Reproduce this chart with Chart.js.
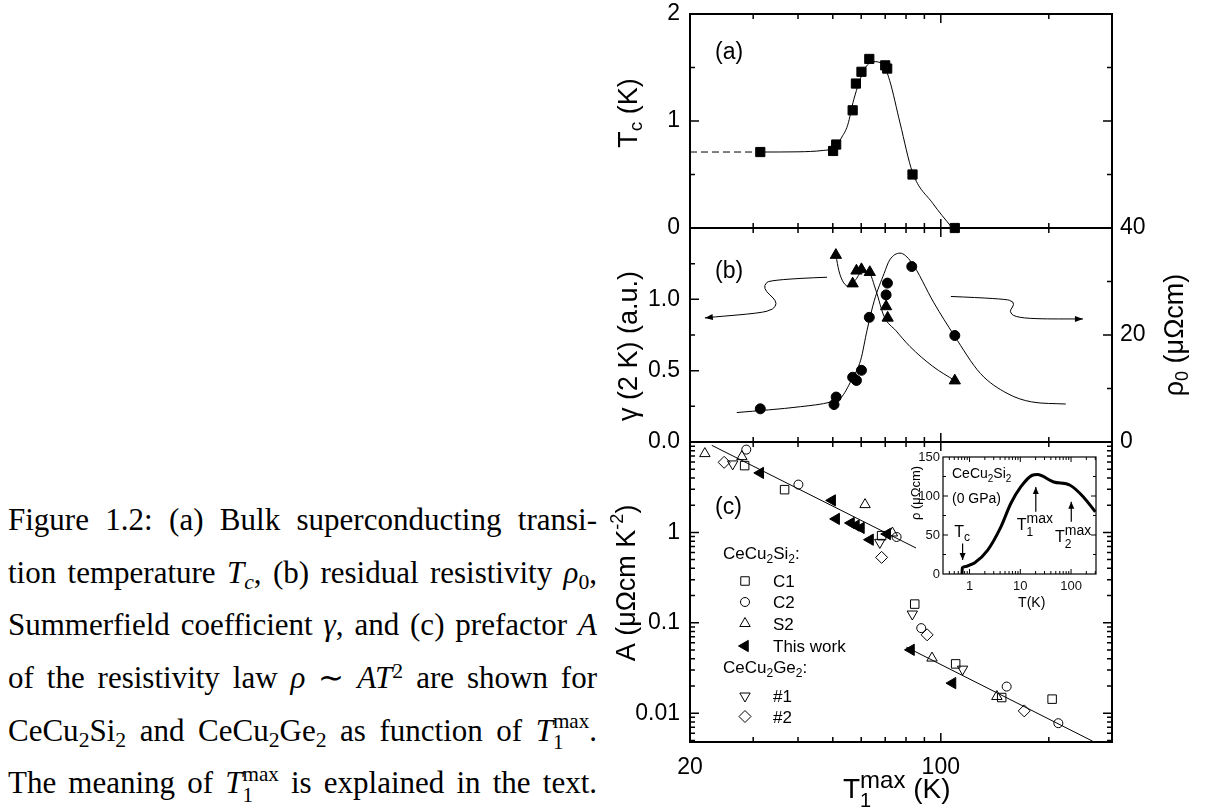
<!DOCTYPE html>
<html>
<head>
<meta charset="utf-8">
<title>Tc, gamma, rho0 and A versus T1max</title>
<script src="https://cdn.jsdelivr.net/npm/chart.js"></script>
<style>
  html, body { margin: 0; padding: 0; background: #fff; }
  #page { position: relative; width: 1210px; height: 812px; overflow: hidden; background: #fff; }
  canvas { position: absolute; }
  .cap { position: absolute; left: 8px; width: 589px; font-family: "Liberation Serif", "Times New Roman", serif;
         font-size: 31px; line-height: 40px; text-align: justify; text-align-last: justify; color: #000; }
  .cap sub, .cap sup { font-size: 0.7em; line-height: 0; position: relative; vertical-align: baseline; }
  .cap sub { top: 0.28em; }
  .cap sup { top: -0.45em; }
  .ss { display: inline-flex; flex-direction: column; font-size: 0.68em; line-height: 1; vertical-align: 0.6em; }
</style>
</head>
<body>
<div id="page">
  <div class="cap" style="top:500px">Figure 1.2: (a) Bulk superconducting transi-</div>
  <div class="cap" style="top:552.6px">tion temperature <i>T<sub>c</sub></i>, (b) residual resistivity <i>ρ</i><sub>0</sub>,</div>
  <div class="cap" style="top:605.2px">Summerfield coefficient <i>γ</i>, and (c) prefactor <i>A</i></div>
  <div class="cap" style="top:658px">of the resistivity law <i>ρ</i> ∼ <i>AT</i><sup>2</sup> are shown for</div>
  <div class="cap" style="top:710.6px">CeCu<sub>2</sub>Si<sub>2</sub> and CeCu<sub>2</sub>Ge<sub>2</sub> as function of <i>T</i><span class="ss"><span>max</span><span>1</span></span>.</div>
  <div class="cap" style="top:763.2px">The meaning of <i>T</i><span class="ss"><span>max</span><span>1</span></span> is explained in the text.</div>

  <canvas id="panelC" width="650" height="400" style="left:560px;top:412px;z-index:1"></canvas>
  <canvas id="panelB" width="650" height="274" style="left:560px;top:198px;z-index:2"></canvas>
  <canvas id="panelA" width="650" height="274" style="left:560px;top:-16px;z-index:3"></canvas>
  <canvas id="inset" width="215" height="170" style="left:895px;top:445px;z-index:4"></canvas>
</div>

<script>
const FONT = '"Liberation Sans", Arial, Helvetica, sans-serif';
Chart.defaults.font.family = FONT;
Chart.defaults.color = '#000';

// shared x axis: T1max (K)
const xLabels = [20, 100];

// (a) bulk Tc
const tcT   = [31.4, 50.1, 51.1, 56.8, 58.0, 60.1, 63.2, 70.0, 70.9, 83.4, 109.4];
const tcVal = [0.71, 0.72, 0.78, 1.10, 1.35, 1.46, 1.58, 1.52, 1.49, 0.50, 0.00];
const tcFitT   = [31.4, 40.0, 47.0, 50.5, 53.0, 55.0, 57.2, 61.2, 64.9, 69.0, 72.0, 77.0, 83.4, 95.0, 107.0];
const tcFitVal = [0.71, 0.712, 0.725, 0.75, 0.85, 0.96, 1.20, 1.48, 1.555, 1.53, 1.38, 0.98, 0.52, 0.23, 0.01];
const tcDashT   = [20, 31.4];
const tcDashVal = [0.71, 0.71];
const tcLabels = [0, 1, 2];

// (b) gamma(2 K) on the left axis, rho0 on the right axis
const gamT   = [51.0, 56.8, 58.2, 60.1, 63.4, 70.4, 71.1, 109.4];
const gamVal = [1.31, 1.11, 1.20, 1.21, 1.19, 0.95, 0.87, 0.43];
const gamFitT   = [51.0, 52.0, 53.5, 55.5, 58.0, 60.5, 63.0, 66.0, 69.5, 75.0, 82.0, 95.0, 109.4];
const gamFitVal = [1.31, 1.20, 1.12, 1.09, 1.14, 1.20, 1.19, 1.06, 0.88, 0.78, 0.67, 0.53, 0.43];
const rhoT   = [31.4, 50.4, 51.1, 56.8, 58.2, 60.1, 63.2, 70.4, 71.0, 83.0, 109.4];
const rhoVal = [6.2, 7.0, 8.4, 12.1, 11.5, 13.4, 23.3, 27.5, 29.7, 32.8, 19.9];
const rhoFitT   = [27.0, 40.6, 49.5, 52.6, 56.4, 59.8, 62.3, 65.3, 69.5, 72.0, 77.0, 82.6, 95.7, 109.0, 129.0, 153.0, 179.0, 223.0];
const rhoFitVal = [5.5, 6.6, 7.5, 8.2, 11.6, 15.3, 20.9, 26.5, 31.5, 34.0, 35.3, 33.7, 26.0, 19.9, 12.8, 9.1, 7.5, 7.1];
const gamLabels = [0, 0.5, 1.0];
const rhoLabels = [0, 20, 40];
// guide arrows (T1max, rho0)
const guideLeftT  = [48.2, 33.5, 32.1, 32.6, 34.2, 34.9, 34.2, 31.4, 22.7, 22.0];
const guideLeftR  = [30.8, 30.4, 29.3, 28.1, 26.9, 25.9, 24.8, 24.1, 23.3, 23.2];
const guideRightT = [106.7, 150.3, 160.3, 158.6, 155.2, 160.3, 182.3, 249];
const guideRightR = [27.2, 26.8, 26.2, 25.2, 24.4, 23.4, 23.0, 23.0];

// (c) A coefficient
const c1T = [28.4, 36.7, 68.4, 84.6, 110.0, 147.8, 204.3];
const c1A = [5.48, 2.97, 0.92, 0.161, 0.0351, 0.0149, 0.0143];
const c2T = [28.7, 40.1, 75.3, 88.2, 152.6, 212.6];
const c2A = [8.24, 3.38, 0.89, 0.0873, 0.0197, 0.00775];
const s2T = [22.0, 27.9, 61.5, 73.3, 94.5, 143.3];
const s2A = [7.44, 6.89, 2.03, 0.985, 0.0407, 0.0153];
const thisT = [31.4, 49.8, 51.1, 56.2, 58.0, 59.9, 63.5, 70.9, 82.6, 107.8];
const thisA = [4.55, 2.26, 1.41, 1.27, 1.19, 1.12, 0.83, 0.96, 0.0502, 0.0215];
const ge1T = [26.3, 67.6, 83.3, 115.0];
const ge1A = [5.72, 0.775, 0.125, 0.0307];
const ge2T = [24.9, 68.4, 91.6, 170.8];
const ge2A = [5.96, 0.529, 0.0736, 0.0106];
const fitLoT = [23.0, 85.3];
const fitLoA = [9.19, 0.672];
const fitHiT = [80.2, 265];
const fitHiA = [0.0538, 0.0049];
const aLabels = [0.01, 0.1, 1];

// inset: rho(T) of CeCu2Si2 at 0 GPa
const insT   = [0.71, 0.72, 0.85, 1.0, 1.25, 2.28, 4.15, 6.5, 10.2, 17.2, 21.6, 45.4, 95.8, 175, 300];
const insRho = [0, 8, 9.5, 11.5, 14, 30.7, 60.5, 90.4, 111.6, 126.6, 127.5, 118, 113.8, 98.8, 79.7];
const insXLabels = [1, 10, 100];
const insYLabels = [0, 50, 100, 150];
const insArrowT    = [0.73, 20.2, 101];
const insArrowFrom = [39, 79.7, 66.9];
const insArrowTo   = [18, 111.6, 92.5];

function xy(xs, ys) { return xs.map((x, i) => ({ x: x, y: ys[i] })); }

function logTicks(lo, hi, major, minor) {
  const out = [];
  for (let d = Math.pow(10, Math.floor(Math.log10(lo))); d < hi; d *= 10) {
    for (let k = 1; k <= 9; k++) {
      const v = +(d * k).toPrecision(6);
      if (v > lo * 1.001 && v < hi * 0.999) out.push([v, k === 1 ? major : minor]);
    }
  }
  return out;
}
function linTicks(lo, hi, step, majorStep, major, minor) {
  const out = [];
  for (let v = lo + step; v < hi - step / 2; v += step) {
    const r = +v.toFixed(6);
    out.push([r, Math.abs(r / majorStep - Math.round(r / majorStep)) < 1e-6 ? major : minor]);
  }
  return out;
}

function rich(ctx, parts, x, y, rot, align) {
  ctx.save();
  ctx.translate(x, y);
  ctx.rotate(rot || 0);
  ctx.fillStyle = '#000';
  ctx.textAlign = 'left';
  ctx.textBaseline = 'alphabetic';
  const w = parts.map(p => { ctx.font = p[1] + 'px ' + FONT; return ctx.measureText(p[0]).width; });
  let total = 0;
  parts.forEach((p, i) => { if (!p[3]) total += w[i]; });
  let cx = align === 'center' ? -total / 2 : 0;
  parts.forEach((p, i) => {
    ctx.font = p[1] + 'px ' + FONT;
    ctx.fillText(p[0], cx, p[2] || 0);
    if (!p[3]) cx += w[i];
  });
  ctx.restore();
}

function arrowHead(ctx, x, y, ang, len, half) {
  ctx.beginPath();
  ctx.moveTo(x, y);
  ctx.lineTo(x - len * Math.cos(ang) + half * Math.sin(ang), y - len * Math.sin(ang) - half * Math.cos(ang));
  ctx.lineTo(x - len * Math.cos(ang) - half * Math.sin(ang), y - len * Math.sin(ang) + half * Math.cos(ang));
  ctx.closePath();
  ctx.fill();
}

function smoothPath(ctx, pts) {
  ctx.beginPath();
  ctx.moveTo(pts[0].x, pts[0].y);
  for (let i = 1; i < pts.length - 1; i++) {
    const mx = (pts[i].x + pts[i + 1].x) / 2, my = (pts[i].y + pts[i + 1].y) / 2;
    ctx.quadraticCurveTo(pts[i].x, pts[i].y, mx, my);
  }
  const n = pts.length - 1;
  ctx.lineTo(pts[n].x, pts[n].y);
  ctx.stroke();
}

// box + inward ticks
function makeFrame(o) {
  return {
    id: 'frame',
    beforeDatasetsDraw(chart) {
      const ctx = chart.ctx, a = chart.chartArea, s = chart.scales;
      ctx.save();
      if (o.fill) { ctx.fillStyle = '#fff'; ctx.fillRect(a.left, a.top, a.width, a.height); }
      ctx.strokeStyle = '#000';
      ctx.lineWidth = o.tickWidth;
      ctx.beginPath();
      o.xTicks.forEach(([v, len]) => {
        const p = s.x.getPixelForValue(v);
        ctx.moveTo(p, a.top); ctx.lineTo(p, a.top + len);
        ctx.moveTo(p, a.bottom); ctx.lineTo(p, a.bottom - len);
      });
      o.leftTicks.forEach(([v, len]) => {
        const p = s[o.leftId].getPixelForValue(v);
        ctx.moveTo(a.left, p); ctx.lineTo(a.left + len, p);
      });
      o.rightTicks.forEach(([v, len]) => {
        const p = s[o.rightId].getPixelForValue(v);
        ctx.moveTo(a.right, p); ctx.lineTo(a.right - len, p);
      });
      ctx.stroke();
      ctx.lineWidth = o.boxWidth;
      ctx.strokeRect(a.left, a.top, a.width, a.height);
      ctx.restore();
    }
  };
}

function xScale(display) {
  return {
    type: 'logarithmic', min: 20, max: 300, display: display,
    grid: { display: false, drawTicks: false }, border: { display: false },
    afterBuildTicks: s => { s.ticks = xLabels.map(v => ({ value: v })); },
    ticks: { font: { size: 23 }, color: '#000', padding: 12, autoSkip: false, maxRotation: 0, callback: v => String(v) },
    afterFit: s => { s.height = display ? 70 : 0; }
  };
}
function yScale(type, min, max, labels, fmt, pos, width, pad) {
  return {
    type: type, min: min, max: max, position: pos,
    grid: { display: false, drawTicks: false }, border: { display: false },
    afterBuildTicks: s => { s.ticks = labels.map(v => ({ value: v })); },
    ticks: { font: { size: 23 }, color: '#000', padding: pad, autoSkip: false, callback: fmt },
    afterFit: s => { s.width = width; }
  };
}
function lineSet(xs, ys, axis, extra) {
  return Object.assign({
    data: xy(xs, ys), yAxisID: axis, showLine: true, pointRadius: 0, borderColor: '#000',
    borderWidth: 1, fill: false, cubicInterpolationMode: 'monotone'
  }, extra || {});
}
function markSet(xs, ys, axis, style, r, rot, filled) {
  return {
    data: xy(xs, ys), yAxisID: axis, showLine: false, pointStyle: style, pointRadius: r,
    pointRotation: rot, pointBorderWidth: 1, borderColor: '#000', pointBorderColor: '#000',
    backgroundColor: filled ? '#000' : 'rgba(0,0,0,0)', pointBackgroundColor: filled ? '#000' : 'rgba(0,0,0,0)',
    clip: false
  };
}
const baseOpts = {
  responsive: false, animation: false, devicePixelRatio: 1, events: [],
  plugins: { legend: { display: false }, tooltip: { enabled: false } }
};

const xTickMarks = logTicks(20, 300, 9, 5);

// ---------- panel (a) ----------
new Chart(document.getElementById('panelA'), {
  type: 'scatter',
  data: { datasets: [
    markSet(tcT, tcVal, 'y', 'rect', 6.5, 0, true),
    lineSet(tcFitT, tcFitVal, 'y'),
    lineSet(tcDashT, tcDashVal, 'y', { borderDash: [7, 4], cubicInterpolationMode: 'default' })
  ] },
  options: Object.assign({}, baseOpts, {
    layout: { autoPadding: false, padding: { top: 30, bottom: 30, left: 0, right: 98 } },
    scales: {
      x: xScale(false),
      y: yScale('linear', 0, 2, tcLabels, v => String(v), 'left', 130, 10)
    }
  }),
  plugins: [
    makeFrame({ xTicks: xTickMarks, leftId: 'y', rightId: 'y',
      leftTicks: linTicks(0, 2, 0.5, 1, 9, 5), rightTicks: linTicks(0, 2, 0.5, 1, 9, 5),
      tickWidth: 1.5, boxWidth: 2 }),
    { id: 'textA', afterDraw(chart) {
      const a = chart.chartArea, ctx = chart.ctx;
      rich(ctx, [['(a)', 23, 0]], a.left + 25, a.top + 45);
      rich(ctx, [['T', 27, 9.5], ['c', 19, 15], [' (K)', 27, 9.5]], 67, a.top + 99, -Math.PI / 2, 'center');
    } }
  ]
});

// ---------- panel (b) ----------
new Chart(document.getElementById('panelB'), {
  type: 'scatter',
  data: { datasets: [
    markSet(gamT, gamVal, 'y', 'triangle', 6.5, 0, true),
    markSet(rhoT, rhoVal, 'y2', 'circle', 5, 0, true),
    lineSet(gamFitT, gamFitVal, 'y'),
    lineSet(rhoFitT, rhoFitVal, 'y2')
  ] },
  options: Object.assign({}, baseOpts, {
    layout: { autoPadding: false, padding: { top: 30, bottom: 30, left: 0, right: 0 } },
    scales: {
      x: xScale(false),
      y: yScale('linear', 0, 1.5, gamLabels, v => v.toFixed(1), 'left', 130, 10),
      y2: yScale('linear', 0, 40, rhoLabels, v => String(v), 'right', 98, 8)
    }
  }),
  plugins: [
    makeFrame({ xTicks: xTickMarks, leftId: 'y', rightId: 'y2',
      leftTicks: linTicks(0, 1.5, 0.25, 0.5, 9, 5), rightTicks: linTicks(0, 40, 10, 20, 9, 5),
      tickWidth: 1.5, boxWidth: 2 }),
    { id: 'textB', afterDraw(chart) {
      const a = chart.chartArea, ctx = chart.ctx, sx = chart.scales.x, sy = chart.scales.y2;
      rich(ctx, [['(b)', 23, 0]], a.left + 25, a.top + 49.7);
      rich(ctx, [['γ (2 K) (a.u.)', 27, 9.5]], 67, a.top + 118, -Math.PI / 2, 'center');
      rich(ctx, [['ρ', 27, 9.5], ['0', 18, 15], [' (μΩcm)', 27, 9.5]], 613, a.top + 107, -Math.PI / 2, 'center');
      ctx.save();
      ctx.strokeStyle = '#000'; ctx.fillStyle = '#000'; ctx.lineWidth = 1;
      const L = guideLeftT.map((t, i) => ({ x: sx.getPixelForValue(t), y: sy.getPixelForValue(guideLeftR[i]) }));
      const R = guideRightT.map((t, i) => ({ x: sx.getPixelForValue(t), y: sy.getPixelForValue(guideRightR[i]) }));
      smoothPath(ctx, L);
      smoothPath(ctx, R);
      const l1 = L[L.length - 1], l0 = L[L.length - 2];
      arrowHead(ctx, l1.x, l1.y, Math.atan2(l1.y - l0.y, l1.x - l0.x), 8, 3);
      const r1 = R[R.length - 1], r0 = R[R.length - 2];
      arrowHead(ctx, r1.x, r1.y, Math.atan2(r1.y - r0.y, r1.x - r0.x), 8, 3);
      ctx.restore();
    } }
  ]
});

// ---------- panel (c) ----------
const cSeries = [
  { name: 'C1', xs: c1T, ys: c1A, style: 'rect', r: 6, rot: 0, filled: false },
  { name: 'C2', xs: c2T, ys: c2A, style: 'circle', r: 4.5, rot: 0, filled: false },
  { name: 'S2', xs: s2T, ys: s2A, style: 'triangle', r: 6, rot: 0, filled: false },
  { name: 'This work', xs: thisT, ys: thisA, style: 'triangle', r: 6.5, rot: -90, filled: true },
  { name: '#1', xs: ge1T, ys: ge1A, style: 'triangle', r: 6, rot: 180, filled: false },
  { name: '#2', xs: ge2T, ys: ge2A, style: 'rectRot', r: 6, rot: 0, filled: false }
];
const legendRows = [
  { dy: 111, head: 'Si' }, { dy: 139, s: 0 }, { dy: 160, s: 1 }, { dy: 181.5, s: 2 }, { dy: 204, s: 3 },
  { dy: 225, head: 'Ge' }, { dy: 254, s: 4 }, { dy: 274.5, s: 5 }
];

new Chart(document.getElementById('panelC'), {
  type: 'scatter',
  data: { datasets: cSeries.map(s => markSet(s.xs, s.ys, 'y', s.style, s.r, s.rot, s.filled)).concat([
    lineSet(fitLoT, fitLoA, 'y', { cubicInterpolationMode: 'default' }),
    lineSet(fitHiT, fitHiA, 'y', { cubicInterpolationMode: 'default' })
  ]) },
  options: Object.assign({}, baseOpts, {
    layout: { autoPadding: false, padding: { top: 30, bottom: 0, left: 0, right: 98 } },
    scales: {
      x: xScale(true),
      y: yScale('logarithmic', 0.0048, 10, aLabels, v => String(v), 'left', 130, 10)
    }
  }),
  plugins: [
    makeFrame({ xTicks: xTickMarks, leftId: 'y', rightId: 'y',
      leftTicks: logTicks(0.0048, 10, 9, 5), rightTicks: logTicks(0.0048, 10, 9, 5),
      tickWidth: 1.5, boxWidth: 2 }),
    { id: 'textC', afterDraw(chart) {
      const a = chart.chartArea, ctx = chart.ctx;
      rich(ctx, [['(c)', 23, 0]], a.left + 25, a.top + 72.3);
      rich(ctx, [['A (μΩcm K', 27, 9.5], ['-2', 18, -2], [')', 27, 9.5]], 65, a.top + 141, -Math.PI / 2, 'center');
      rich(ctx, [['T', 28, 0], ['1', 20, 9, true], ['max', 24, -10], [' (K)', 28, 0]], 283, a.bottom + 56);
      legendRows.forEach(row => {
        const y = a.top + row.dy;
        if (row.head) {
          rich(ctx, [['CeCu', 17, 6], ['2', 12, 10], [row.head, 17, 6], ['2', 12, 10], [':', 17, 6]], a.left + 33, y);
          return;
        }
        const s = cSeries[row.s];
        ctx.save();
        ctx.strokeStyle = '#000';
        ctx.lineWidth = 1;
        ctx.fillStyle = s.filled ? '#000' : 'rgba(0,0,0,0)';
        Chart.helpers.drawPoint(ctx, { pointStyle: s.style, rotation: s.rot, radius: s.r, borderWidth: 1 }, a.left + 55, y);
        ctx.restore();
        rich(ctx, [[s.name, 17, 6]], a.left + 83, y);
      });
    } }
  ]
});

// ---------- inset ----------
new Chart(document.getElementById('inset'), {
  type: 'scatter',
  data: { datasets: [lineSet(insT, insRho, 'y', { borderWidth: 3 })] },
  options: Object.assign({}, baseOpts, {
    layout: { autoPadding: false, padding: { top: 12, bottom: 0, left: 0, right: 14 } },
    scales: {
      x: {
        type: 'logarithmic', min: 0.33, max: 310,
        grid: { display: false, drawTicks: false }, border: { display: false },
        afterBuildTicks: s => { s.ticks = insXLabels.map(v => ({ value: v })); },
        ticks: { font: { size: 13 }, color: '#111', padding: 5, autoSkip: false, maxRotation: 0, callback: v => String(v) },
        afterFit: s => { s.height = 41; }
      },
      y: {
        type: 'linear', min: 0, max: 150,
        grid: { display: false, drawTicks: false }, border: { display: false },
        afterBuildTicks: s => { s.ticks = insYLabels.map(v => ({ value: v })); },
        ticks: { font: { size: 13 }, color: '#111', padding: 3, autoSkip: false, callback: v => String(v) },
        afterFit: s => { s.width = 48; }
      }
    }
  }),
  plugins: [
    makeFrame({ fill: true, xTicks: logTicks(0.33, 310, 5, 3), leftId: 'y', rightId: 'y',
      leftTicks: linTicks(0, 150, 25, 50, 5, 3), rightTicks: linTicks(0, 150, 25, 50, 5, 3),
      tickWidth: 1, boxWidth: 1.2 }),
    { id: 'textInset', afterDraw(chart) {
      const a = chart.chartArea, ctx = chart.ctx, sx = chart.scales.x, sy = chart.scales.y;
      rich(ctx, [['CeCu', 14, 0], ['2', 10, 4], ['Si', 14, 0], ['2', 10, 4]], a.left + 9, a.top + 21);
      rich(ctx, [['(0 GPa)', 14, 0]], a.left + 9, a.top + 46);
      rich(ctx, [['T', 16, 0], ['c', 12, 4]], a.left + 11.3, a.top + 79.7);
      rich(ctx, [['T', 16, 0], ['1', 12, 6, true], ['max', 14, -7]], a.left + 73.7, a.top + 73);
      rich(ctx, [['T', 16, 0], ['2', 12, 6, true], ['max', 14, -7]], a.left + 112, a.top + 84.7);
      rich(ctx, [['ρ (μΩcm)', 13, 4.5]], 20, 48, -Math.PI / 2, 'center');
      rich(ctx, [['T(K)', 14, 5]], 136.7, 156.7, 0, 'center');
      ctx.save();
      ctx.strokeStyle = '#000'; ctx.fillStyle = '#000'; ctx.lineWidth = 1.2;
      insArrowT.forEach((t, i) => {
        const x = sx.getPixelForValue(t);
        const y0 = sy.getPixelForValue(insArrowFrom[i]), y1 = sy.getPixelForValue(insArrowTo[i]);
        ctx.beginPath(); ctx.moveTo(x, y0); ctx.lineTo(x, y1); ctx.stroke();
        arrowHead(ctx, x, y1, y1 > y0 ? Math.PI / 2 : -Math.PI / 2, 7, 3);
      });
      ctx.restore();
    } }
  ]
});
</script>
</body>
</html>
